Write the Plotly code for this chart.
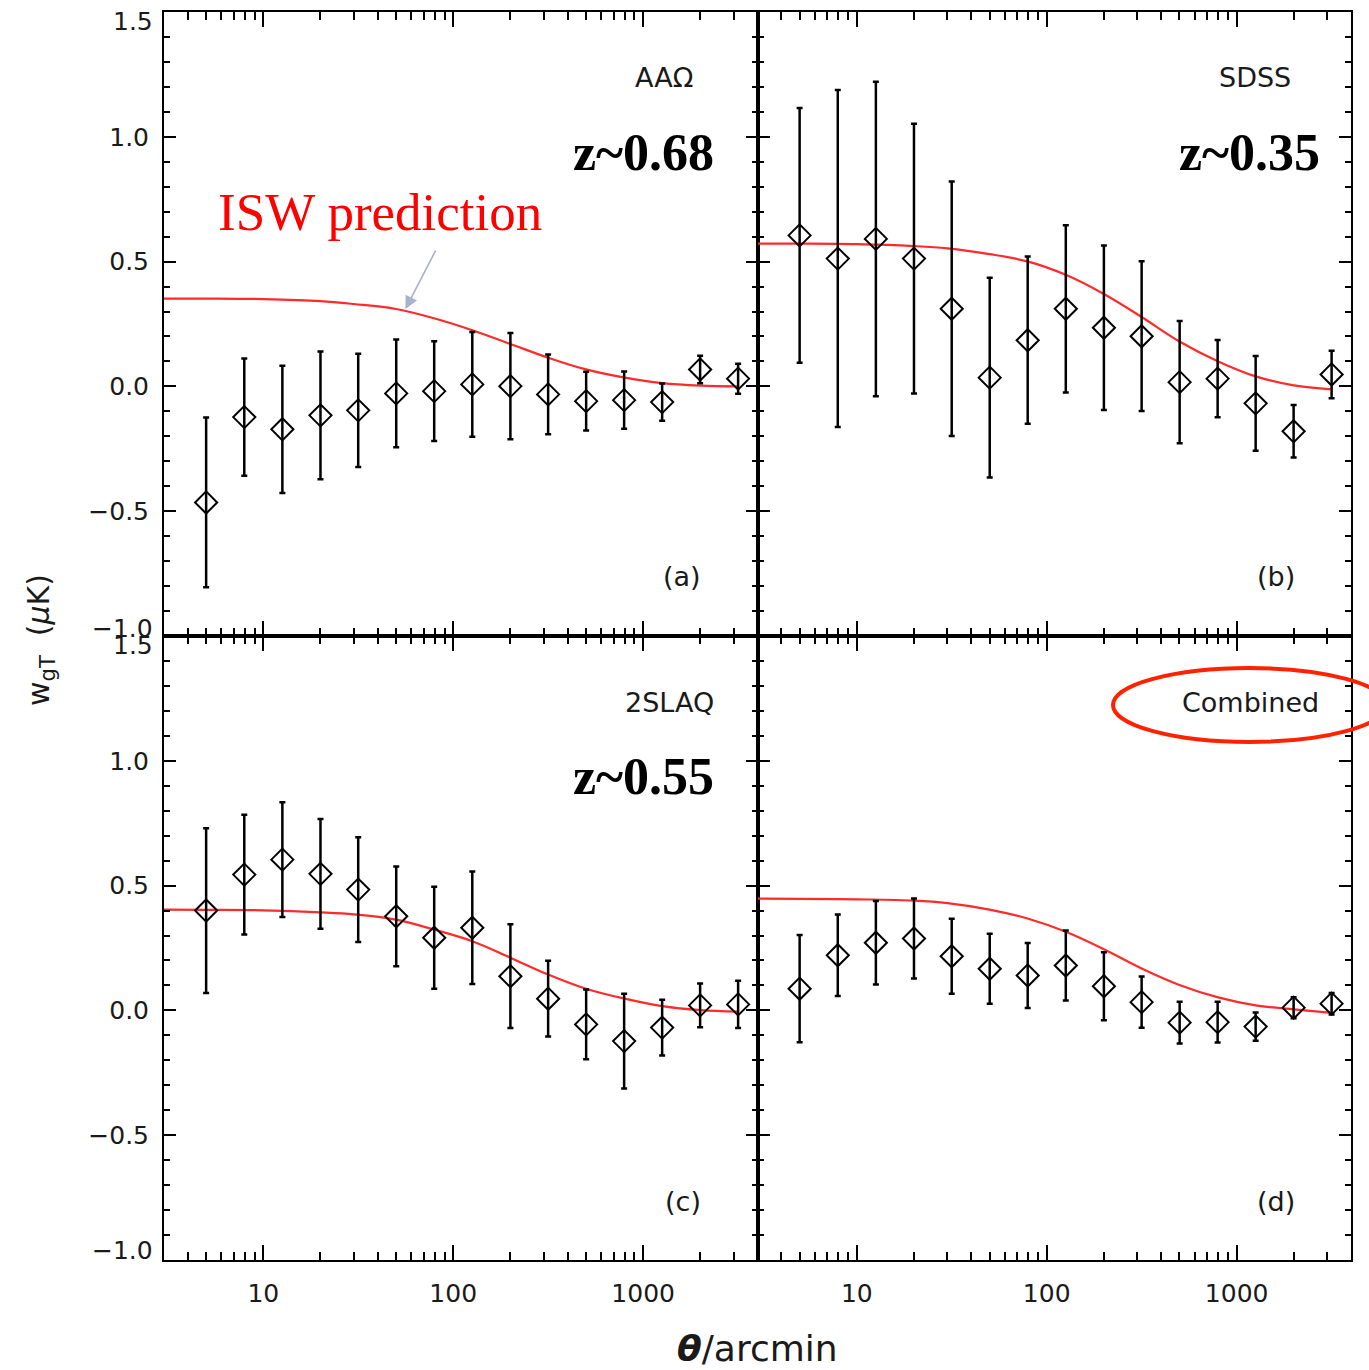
import plotly.graph_objects as go
from plotly.subplots import make_subplots
import math

# ---------------- data ----------------
theta = [5.0, 7.94, 12.6, 20.0, 31.6, 50.1, 79.4, 126, 200, 316, 501, 794, 1259, 1995, 3162]

a_w = [-0.465, -0.123, -0.172, -0.116, -0.096, -0.028, -0.019, 0.008, 0.001, -0.032, -0.059, -0.055, -0.063, 0.068, 0.031]
a_err = [0.34, 0.235, 0.255, 0.256, 0.227, 0.216, 0.200, 0.210, 0.213, 0.160, 0.118, 0.115, 0.075, 0.055, 0.060]

b_w = [0.605, 0.512, 0.591, 0.512, 0.311, 0.035, 0.185, 0.311, 0.235, 0.201, 0.017, 0.031, -0.068, -0.180, 0.048]
b_err = [0.51, 0.675, 0.63, 0.54, 0.51, 0.40, 0.335, 0.335, 0.33, 0.30, 0.245, 0.155, 0.19, 0.105, 0.095]

c_w = [0.400, 0.544, 0.604, 0.547, 0.484, 0.377, 0.291, 0.331, 0.137, 0.047, -0.056, -0.123, -0.069, 0.020, 0.024]
c_err = [0.33, 0.24, 0.23, 0.22, 0.21, 0.20, 0.204, 0.225, 0.208, 0.152, 0.14, 0.19, 0.112, 0.088, 0.095]

d_w = [0.087, 0.221, 0.271, 0.288, 0.217, 0.167, 0.140, 0.180, 0.097, 0.033, -0.049, -0.047, -0.065, 0.011, 0.027]
d_err = [0.215, 0.163, 0.167, 0.160, 0.150, 0.140, 0.130, 0.140, 0.136, 0.103, 0.084, 0.082, 0.057, 0.042, 0.043]

theta_model = [3, 5, 10, 20, 30, 50, 80, 126, 200, 316, 500, 800, 1260, 2000, 3162]
a_model = [0.352, 0.352, 0.350, 0.342, 0.330, 0.310, 0.272, 0.225, 0.170, 0.115, 0.068, 0.035, 0.013, 0.003, 0.000]
b_model = [0.572, 0.572, 0.570, 0.562, 0.553, 0.530, 0.500, 0.447, 0.370, 0.278, 0.180, 0.100, 0.040, 0.004, -0.012]
c_model = [0.404, 0.403, 0.401, 0.393, 0.385, 0.364, 0.323, 0.277, 0.211, 0.144, 0.087, 0.047, 0.017, 0.001, -0.005]
d_model = [0.448, 0.447, 0.445, 0.440, 0.430, 0.404, 0.367, 0.315, 0.245, 0.168, 0.102, 0.052, 0.020, 0.004, -0.010]

survey_names = ["AAΩ", "SDSS", "2SLAQ", "Combined"]
redshift_labels = ["z~0.68", "z~0.35", "z~0.55", ""]
panel_tags = ["(a)", "(b)", "(c)", "(d)"]

x_range = [math.log10(3.0), math.log10(4000.0)]
y_range = [-1.0, 1.5]
y_ticks = [-1.0, -0.5, 0.0, 0.5, 1.0, 1.5]
# end labels are drawn separately (offset inward, as in the original)
y_ticktext = ["", "\u22120.5", "0.0", "0.5", "1.0", ""]
y_end_labels = ["1.5", "\u22121.0"]
x_ticks = [10, 100, 1000]
x_ticktext = ["10", "100", "1000"]
x_minor_ticks = [4, 5, 6, 7, 8, 9, 20, 30, 40, 50, 60, 70, 80, 90,
                 200, 300, 400, 500, 600, 700, 800, 900, 2000, 3000]

# ---------------- figure ----------------
W, H = 1369, 1370
ML, MR, MT, MB = 164, 18, 12, 110
fig = make_subplots(rows=2, cols=2, shared_xaxes=True, shared_yaxes=True,
                    horizontal_spacing=0, vertical_spacing=0)

panels = [(1, 1, a_w, a_err, a_model), (1, 2, b_w, b_err, b_model),
          (2, 1, c_w, c_err, c_model), (2, 2, d_w, d_err, d_model)]

for (r, c, w, e, m) in panels:
    fig.add_hline(y=0, line=dict(color="#3fe83f", width=2, dash="11px,9px"), row=r, col=c)
    fig.add_trace(go.Scatter(x=theta_model, y=m, mode="lines", line_shape="spline",
                             line=dict(color="#ff2a2a", width=2.2), showlegend=False,
                             hoverinfo="skip"), row=r, col=c)
    fig.add_trace(go.Scatter(x=theta, y=w, mode="markers",
                             marker=dict(symbol="diamond-open", size=17, color="black",
                                         line=dict(color="black", width=2)),
                             error_y=dict(type="data", array=e, visible=True, color="black",
                                          thickness=2.5, width=3),
                             showlegend=False), row=r, col=c)

TXT = "#1a1a1a"
tickfont = dict(family="DejaVu Sans", size=25, color=TXT)
for r in (1, 2):
    for c in (1, 2):
        fig.update_xaxes(type="log", range=x_range, tickvals=x_ticks, ticktext=x_ticktext,
                         ticks="inside", ticklen=15, tickwidth=2, tickcolor="black",
                         minor=dict(tickvals=x_minor_ticks, ticks="inside", ticklen=8,
                                    tickwidth=1.6, tickcolor="black", showgrid=False),
                         showline=True, linecolor="black", linewidth=2, mirror="allticks",
                         showgrid=False, zeroline=False, showticklabels=(r == 2),
                         automargin=False, tickfont=tickfont, ticklabelstandoff=10,
                         row=r, col=c)
        fig.update_yaxes(range=y_range, tickvals=y_ticks, ticktext=y_ticktext,
                         ticks="inside", ticklen=12, tickwidth=2, tickcolor="black",
                         minor=dict(dtick=0.1, ticks="inside", ticklen=6, tickwidth=1.6,
                                    tickcolor="black", showgrid=False),
                         showline=True, linecolor="black", linewidth=2, mirror="allticks",
                         showgrid=False, zeroline=False, showticklabels=(c == 1),
                         automargin=False, tickfont=tickfont, ticklabelstandoff=8,
                         row=r, col=c)

PW = W - ML - MR
PH = H - MT - MB


def px(xp):
    return (xp - ML) / PW


def py(yp):
    return (H - MB - yp) / PH


ann = []
label_font = dict(family="DejaVu Sans", size=27, color=TXT)
zfont = dict(family="Liberation Serif", size=52, color="black")
name_pos = [(695, 77), (1293, 77), (716, 702), (1321, 702)]
z_pos = [(716, 152), (1322, 152), (716, 776), None]
tag_pos = [(703, 577), (1297, 577), (703, 1201), (1297, 1201)]
for i in range(4):
    ann.append(dict(x=px(name_pos[i][0]), y=py(name_pos[i][1]), xref="paper", yref="paper",
                    text=survey_names[i], showarrow=False, xanchor="right", yanchor="middle",
                    font=label_font))
    ann.append(dict(x=px(tag_pos[i][0]), y=py(tag_pos[i][1]), xref="paper", yref="paper",
                    text=panel_tags[i], showarrow=False, xanchor="right", yanchor="middle",
                    font=label_font))
    if z_pos[i] is not None:
        ann.append(dict(x=px(z_pos[i][0]), y=py(z_pos[i][1]), xref="paper", yref="paper",
                        text="<b>" + redshift_labels[i] + "</b>", showarrow=False,
                        xanchor="right", yanchor="middle", font=zfont))

# y-axis end labels, shifted inward like the original
end_label_pos = [(22, 0), (628, 1), (645, 0), (1250, 1)]
for yp, k in end_label_pos:
    ann.append(dict(x=px(155), y=py(yp), xref="paper", yref="paper", text=y_end_labels[k],
                    showarrow=False, xanchor="right", yanchor="middle", font=tickfont))

# ISW prediction label and arrow
ann.append(dict(x=px(216), y=py(212), xref="paper", yref="paper", text="ISW prediction",
                showarrow=False, xanchor="left", yanchor="middle",
                font=dict(family="Liberation Serif", size=53, color="#ff0000")))
ann.append(dict(x=math.log10(56), y=0.31, xref="x", yref="y", text="", showarrow=True,
                ax=31, ay=-60, arrowcolor="#a9b2cc", arrowwidth=1.6, arrowhead=2,
                arrowsize=1.6))

# axis titles
ann.append(dict(x=px(40), y=py(640), xref="paper", yref="paper",
                text="w<sub>gT</sub>  (<i>\u03bc</i>K)", showarrow=False, textangle=-90,
                xanchor="center", yanchor="middle",
                font=dict(family="DejaVu Sans", size=30, color=TXT)))
ann.append(dict(x=px(757), y=py(1348), xref="paper", yref="paper",
                text="<b><i>\u03b8</i></b>/arcmin", showarrow=False,
                xanchor="center", yanchor="middle",
                font=dict(family="DejaVu Sans", size=36, color=TXT)))

fig.update_layout(annotations=ann)

# red ellipse around "Combined"
fig.add_shape(type="circle", xref="paper", yref="paper",
              x0=px(1113), x1=px(1386), y0=py(742), y1=py(668),
              line=dict(color="#ff2200", width=4), fillcolor="rgba(0,0,0,0)")

fig.update_layout(width=W, height=H, margin=dict(l=ML, r=MR, t=MT, b=MB, autoexpand=False),
                  paper_bgcolor="white", plot_bgcolor="white", showlegend=False)

fig.write_html("out.html")
